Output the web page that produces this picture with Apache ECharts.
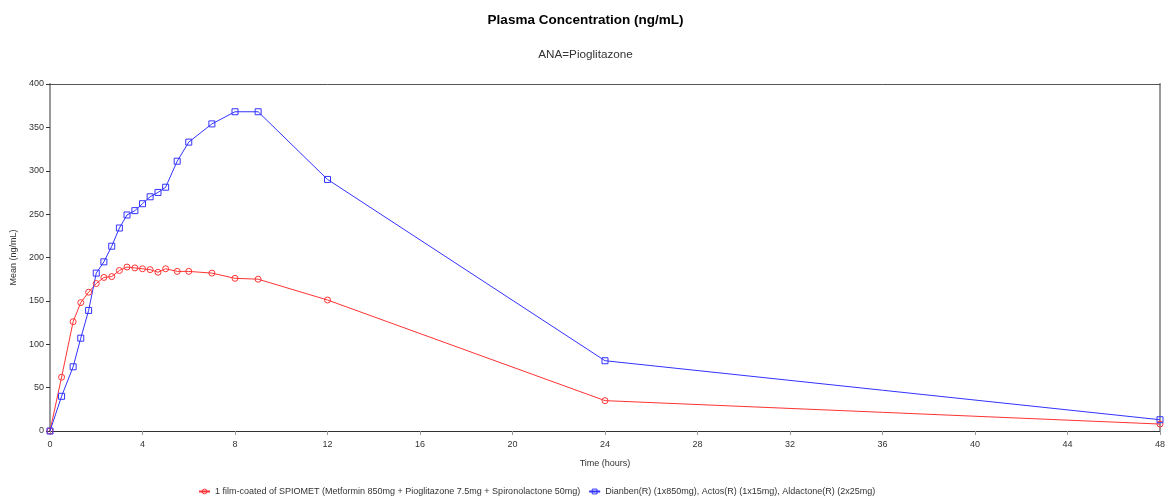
<!DOCTYPE html>
<html>
<head>
<meta charset="utf-8">
<script src="https://cdn.jsdelivr.net/npm/echarts@6/dist/echarts.min.js"></script>
<style>html,body{margin:0;padding:0;background:#fff}#c{width:1171px;height:504px}</style>
</head>
<body>
<div id="c"></div>
<script>
var times = [0, 0.5, 1, 1.33, 1.67, 2, 2.33, 2.67, 3, 3.33, 3.67, 4, 4.33, 4.67, 5, 5.5, 6, 7, 8, 9, 12, 24, 48];
var spiomet = [0, 62, 126, 148, 160, 170, 177, 178, 185, 189, 188, 187, 186, 183, 187, 184, 184, 182, 176, 175, 151, 35, 8];
var reference = [0, 40, 74, 107, 139, 182, 195, 213, 234, 249, 254, 262, 270, 275, 281, 311, 333, 354, 368, 368, 290, 81, 13];
var seriesNames = [
  '1 film-coated of SPIOMET (Metformin 850mg + Pioglitazone 7.5mg + Spironolactone 50mg)',
  'Dianben(R) (1x850mg), Actos(R) (1x15mg), Aldactone(R) (2x25mg)'
];
var red = '#ff3333', blue = '#3333ff';
function pairs(xs, ys){ return xs.map(function(x,i){ return [x, ys[i]]; }); }
var font = 'Liberation Sans, Arial, sans-serif';
var chart = echarts.init(document.getElementById('c'));
chart.setOption({
  animation: false,
  title: [
    {text: 'Plasma Concentration (ng/mL)', left: 'center', top: 8,
     textStyle: {fontFamily: font, fontSize: 13.5, fontWeight: 'bold', color: '#000'}},
    {text: 'ANA=Pioglitazone', left: 'center', top: 44,
     textStyle: {fontFamily: font, fontSize: 11.7, fontWeight: 'normal', color: '#333'}}
  ],
  legend: {
    bottom: 3, left: 193, itemWidth: 11, itemHeight: 6, itemGap: 8,
    textStyle: {fontFamily: font, fontSize: 9, color: '#333'},
    data: [
      {name: seriesNames[0], itemStyle: {color: 'rgba(255,255,255,0)', borderColor: red, borderWidth: 1}},
      {name: seriesNames[1], itemStyle: {color: 'rgba(255,255,255,0)', borderColor: blue, borderWidth: 1}}
    ]
  },
  grid: {left: 50, right: 11, top: 84, bottom: 73, containLabel: false},
  xAxis: [
    {type: 'value', min: 0, max: 48, interval: 4, name: 'Time (hours)', nameLocation: 'middle', nameGap: 28,
     nameTextStyle: {fontFamily: font, fontSize: 9, color: '#333'},
     axisLine: {onZero: false, lineStyle: {color: '#333', width: 1}},
     axisTick: {show: true, length: 4, lineStyle: {color: '#999'}},
     axisLabel: {fontFamily: font, fontSize: 9, color: '#333', margin: 9},
     splitLine: {show: false}},
    {type: 'value', position: 'top', min: 0, max: 48,
     axisLine: {show: true, onZero: false, lineStyle: {color: '#555', width: 1}},
     axisTick: {show: false}, axisLabel: {show: false}, splitLine: {show: false}}
  ],
  yAxis: [
    {type: 'value', min: 0, max: 400, interval: 50, name: 'Mean (ng/mL)', nameLocation: 'middle', nameGap: 32,
     nameTextStyle: {fontFamily: font, fontSize: 9, color: '#333'},
     axisLine: {show: true, onZero: false, lineStyle: {color: '#999', width: 2}},
     axisTick: {show: true, length: 4, lineStyle: {color: '#333'}},
     axisLabel: {fontFamily: font, fontSize: 9, color: '#333', margin: 6},
     splitLine: {show: false}},
    {type: 'value', position: 'right', min: 0, max: 400,
     axisLine: {show: true, onZero: false, lineStyle: {color: '#999', width: 2}},
     axisTick: {show: false}, axisLabel: {show: false}, splitLine: {show: false}}
  ],
  series: [
    {name: seriesNames[0], type: 'line', data: pairs(times, spiomet),
     symbol: 'circle', symbolSize: 6, showAllSymbol: true,
     lineStyle: {color: red, width: 1},
     itemStyle: {color: 'rgba(255,255,255,0)', borderColor: red, borderWidth: 1},
     emphasis: {disabled: true}},
    {name: seriesNames[1], type: 'line', data: pairs(times, reference),
     symbol: 'rect', symbolSize: 6, showAllSymbol: true,
     lineStyle: {color: blue, width: 1},
     itemStyle: {color: 'rgba(255,255,255,0)', borderColor: blue, borderWidth: 1},
     emphasis: {disabled: true}}
  ]
});
</script>
</body>
</html>
